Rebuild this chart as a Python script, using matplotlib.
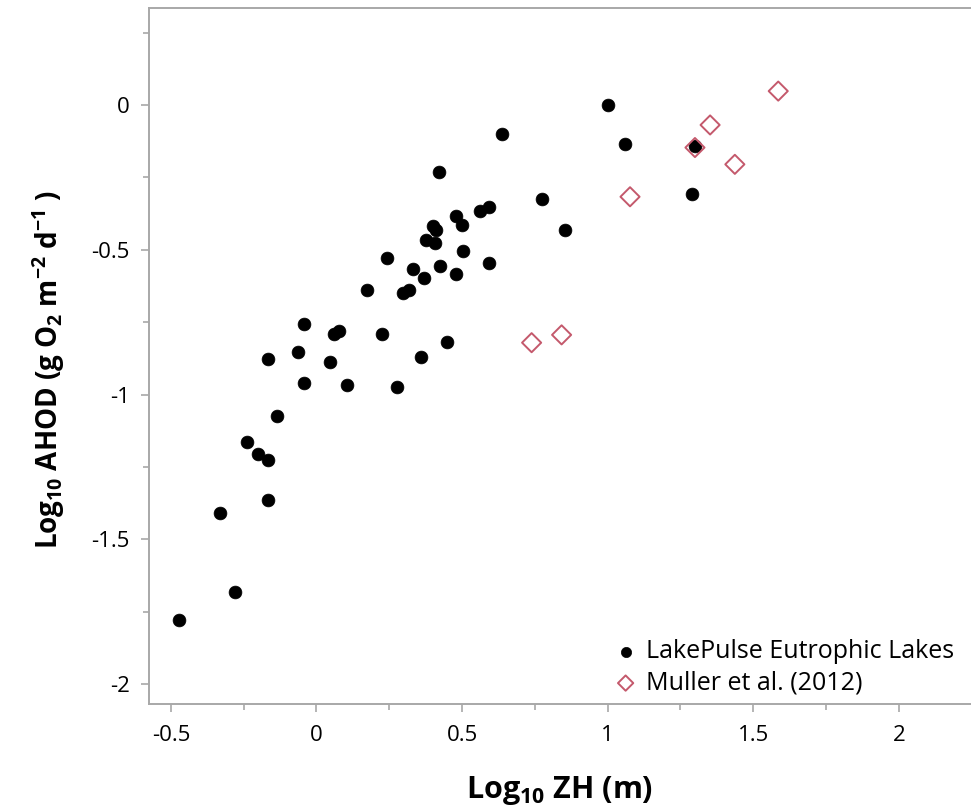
import matplotlib
matplotlib.use("Agg")
import matplotlib.pyplot as plt
from matplotlib.ticker import MultipleLocator, FuncFormatter

plt.rcParams['font.family'] = ['Open Sans', 'DejaVu Sans']
plt.rcParams['mathtext.fontset'] = 'custom'
plt.rcParams['mathtext.rm'] = 'Open Sans:bold'
plt.rcParams['mathtext.default'] = 'rm'

# LakePulse eutrophic lakes (log10 ZH, log10 AHOD)
lake_x = [-0.472, -0.278, -0.331, -0.166, -0.166, -0.200, -0.237, -0.136, -0.167, -0.042,
          -0.062, -0.042, 0.048, 0.061, 0.079, 0.105, 0.225, 0.277, 0.359, 0.449,
          0.421, 0.479, 0.499, 0.563, 0.593, 0.401, 0.410, 0.376, 0.408, 0.502,
          0.241, 0.331, 0.425, 0.593, 0.371, 0.479, 0.175, 0.298, 0.317, 0.638,
          1.002, 1.060, 0.776, 0.854, 1.300, 1.291]
lake_y = [-1.779, -1.682, -1.410, -1.364, -1.226, -1.206, -1.165, -1.074, -0.878, -0.961,
          -0.852, -0.758, -0.889, -0.792, -0.781, -0.967, -0.790, -0.973, -0.869, -0.820,
          -0.231, -0.382, -0.415, -0.366, -0.351, -0.418, -0.432, -0.466, -0.477, -0.504,
          -0.527, -0.568, -0.555, -0.547, -0.599, -0.585, -0.639, -0.650, -0.639, -0.099,
          0.000, -0.135, -0.325, -0.432, -0.142, -0.309]

# Muller et al. (2012)
muller_x = [1.586, 1.352, 1.300, 1.437, 1.077, 0.739, 0.842]
muller_y = [0.048, -0.069, -0.147, -0.205, -0.317, -0.821, -0.794]

fig = plt.figure(figsize=(9.71, 8.09), dpi=100)
ax = fig.add_axes([149/971, 105/809, 1 - 149/971, 696/809])

ax.scatter(lake_x, lake_y, s=85, color='black', edgecolors='black', linewidths=0.5,
           label='LakePulse Eutrophic Lakes', zorder=3)
ax.scatter(muller_x, muller_y, s=95, marker='D', facecolors='none', edgecolors='#c4596c',
           linewidths=1.4, label='Muller et al. (2012)', zorder=4)

ax.set_xlim(-0.575, 2.248)
ax.set_ylim(-2.069, 0.335)

fmt = FuncFormatter(lambda v, p: ('%g' % v))
ax.xaxis.set_major_locator(MultipleLocator(0.5))
ax.xaxis.set_minor_locator(MultipleLocator(0.25))
ax.yaxis.set_major_locator(MultipleLocator(0.5))
ax.yaxis.set_minor_locator(MultipleLocator(0.25))
ax.xaxis.set_major_formatter(fmt)
ax.yaxis.set_major_formatter(fmt)

ax.spines['right'].set_visible(False)
for side in ['left', 'bottom', 'top']:
    ax.spines[side].set_color('#a8a8a8')
    ax.spines[side].set_linewidth(1.4)

ax.tick_params(which='major', length=6, width=1.2, color='#a8a8a8', labelsize=16, pad=8)
ax.tick_params(axis='x', which='major', pad=9)
ax.tick_params(which='minor', length=4, width=1.2, color='#a8a8a8')

ax.set_xlabel(r'Log$_{10}$ ZH (m)', fontsize=22, fontweight='bold')
ax.set_ylabel(r'Log$_{10}$ AHOD (g O$_2$ m$^{-2}$ d$^{-1}$ )', fontsize=20, fontweight='bold')
ax.xaxis.set_label_coords(0.5, -0.1)
ax.yaxis.set_label_coords(-0.1, 0.48)

ax.legend(loc='lower right', bbox_to_anchor=(0.979, 0.012), frameon=False, fontsize=18,
          handlelength=1.0, handletextpad=0.3, labelspacing=0.25, borderpad=0,
          borderaxespad=0, markerscale=0.8)

fig.savefig('out.png', dpi=100)
